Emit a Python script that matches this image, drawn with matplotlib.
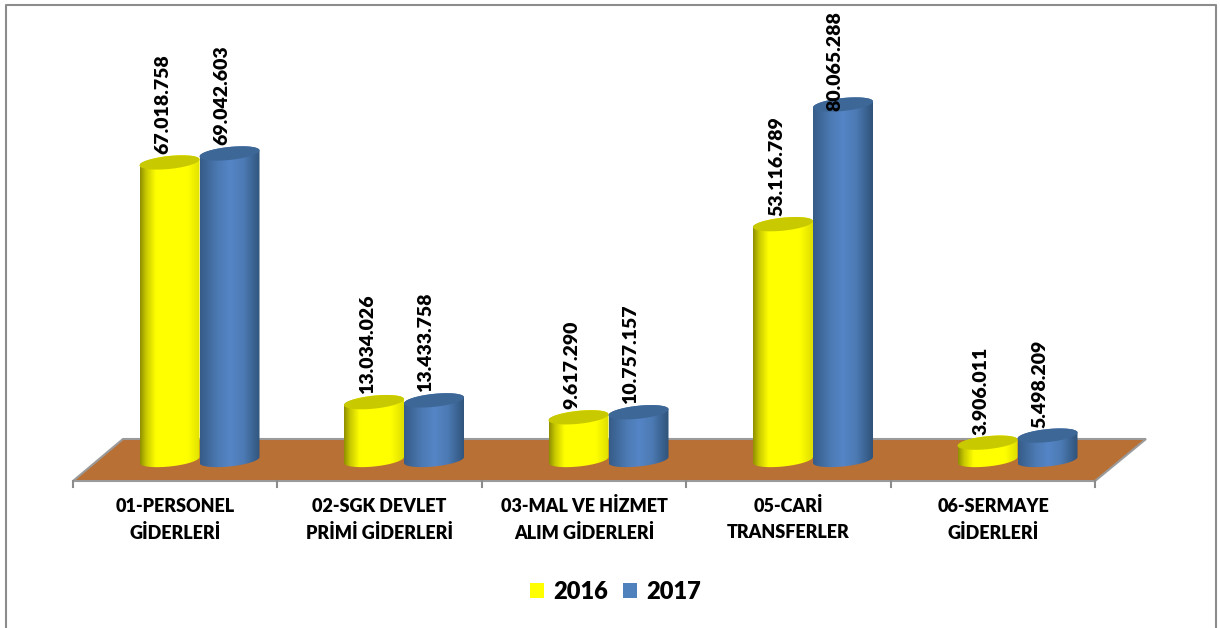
import numpy as np
import matplotlib
matplotlib.use("Agg")
import matplotlib.pyplot as plt
from matplotlib.colors import LinearSegmentedColormap
from matplotlib.patches import Patch, Polygon
from matplotlib.path import Path

categories = ["01-PERSONEL\nGİDERLERİ", "02-SGK DEVLET\nPRİMİ GİDERLERİ", "03-MAL VE HİZMET\nALIM GİDERLERİ",
              "05-CARİ\nTRANSFERLER", "06-SERMAYE\nGİDERLERİ"]
v2016 = [67018758, 13034026, 9617290, 53116789, 3906011]
v2017 = [69042603, 13433758, 10757157, 80065288, 5498209]
years = ["2016", "2017"]

plt.rcParams["font.family"] = ["Lato", "DejaVu Sans"]

W, H = 1220, 628
px_x = 204.5      # pixels per category
px_y = 4.44e-6    # pixels per unit of value
base_x, base_y = 199.5, 460

fig = plt.figure(figsize=(W / 100, H / 100), dpi=100, facecolor="white")
ax = fig.add_axes([0, 0, 1, 1])
ax.axis("off")

fx = lambda p: (p - base_x) / px_x
fy = lambda p: (base_y - p) / px_y

# outer frame, open at the bottom
ax.plot([fx(6), fx(6), fx(1216), fx(1216)], [fy(H), fy(5), fy(5), fy(H)], color="#8c8c8c", lw=1.5)

# floor of the 3d chart, a parallelogram under the cylinders
floor = [(fx(73), fy(481)), (fx(1095), fy(481)), (fx(1146), fy(439)), (fx(123), fy(439))]
ax.add_patch(Polygon(floor, closed=True, facecolor="#b97034", edgecolor="#9a9a9a", linewidth=1.5, zorder=1))
for i in range(6):
    ax.plot([fx(73) + i * (fx(1095) - fx(73)) / 5] * 2, [fy(481), fy(487)], color="#8c8c8c", lw=1.5, zorder=1)

yellow_cmap = LinearSegmentedColormap.from_list("y", [(0, "#8f8f00"), (0.1, "#c8c800"), (0.26, "#ffff00"),
                                                      (0.78, "#ffff00"), (1, "#dede00")])
blue_cmap = LinearSegmentedColormap.from_list("b", [(0, "#365c88"), (0.3, "#4c7ab4"), (0.5, "#5585c6"),
                                                    (0.72, "#4c7ab4"), (1, "#2f5379")])
grad = np.linspace(0, 1, 256).reshape(1, -1)


def cylinder(cx, value, cmap, top_color, z):
    a = 30 / px_x
    b = 6.5 / px_y
    s = 3 / px_y
    t = np.linspace(0, np.pi, 60)
    # sheared ellipse, right side sits a bit higher than the left
    lower_x = cx - a * np.cos(t)
    lower_y = -s * np.cos(t) - b * np.sin(t)
    upper_x = cx + a * np.cos(t)
    upper_y = value + s * np.cos(t) + b * np.sin(t)
    body = np.column_stack([np.r_[lower_x, upper_x], np.r_[lower_y, upper_y]])
    im = ax.imshow(grad, extent=[cx - a, cx + a, -2e7, value + 2e7], aspect="auto", cmap=cmap, zorder=z)
    im.set_clip_path(Path(body, closed=False), ax.transData)
    tt = np.linspace(0, 2 * np.pi, 120)
    top = np.column_stack([cx + a * np.cos(tt), value + s * np.cos(tt) + b * np.sin(tt)])
    ax.add_patch(Polygon(top, closed=True, facecolor=top_color, edgecolor="none", zorder=z + 0.1))


for i in range(len(categories)):
    cylinder(i - 30 / px_x, v2016[i], yellow_cmap, "#c9c900", 2 + i)
    cylinder(i + 30 / px_x, v2017[i], blue_cmap, "#3d6797", 2.5 + i)

# imshow resets the limits, so these come after the cylinders
ax.set_xlim(-base_x / px_x, (W - base_x) / px_x)
ax.set_ylim((base_y - H) / px_y, base_y / px_y)


def dotted(n):
    return f"{n:,}".replace(",", ".")


for i in range(len(categories)):
    for val, sx in ((v2016[i], -36.5), (v2017[i], 22)):
        dy = 8
        if val > 75e6:  # would run out of the frame otherwise
            dy = -6
        ax.annotate(dotted(val), (i, val), xytext=(sx * 0.72, dy * 0.72), textcoords="offset points",
                    rotation=90, ha="center", va="bottom", fontsize=14, fontweight="heavy",
                    color="black", zorder=20)

for i, name in enumerate(categories):
    l1, l2 = name.split("\n")
    cx = fx(175) + i
    ax.text(cx, fy(506), l1, ha="center", va="center", fontsize=13, fontweight="heavy", color="black")
    ax.text(cx, fy(533), l2, ha="center", va="center", fontsize=13, fontweight="heavy", color="black")

handles = [Patch(facecolor="#ffff00", label=years[0]), Patch(facecolor="#4f81bd", label=years[1])]
ax.legend(handles=handles, loc="center", bbox_to_anchor=(0.5045, 0.057), ncol=2, frameon=False,
          prop={"size": 17, "weight": "heavy"}, handlelength=0.6, handleheight=0.6,
          handletextpad=0.4, columnspacing=0.6)

fig.savefig("out.png", dpi=100)
